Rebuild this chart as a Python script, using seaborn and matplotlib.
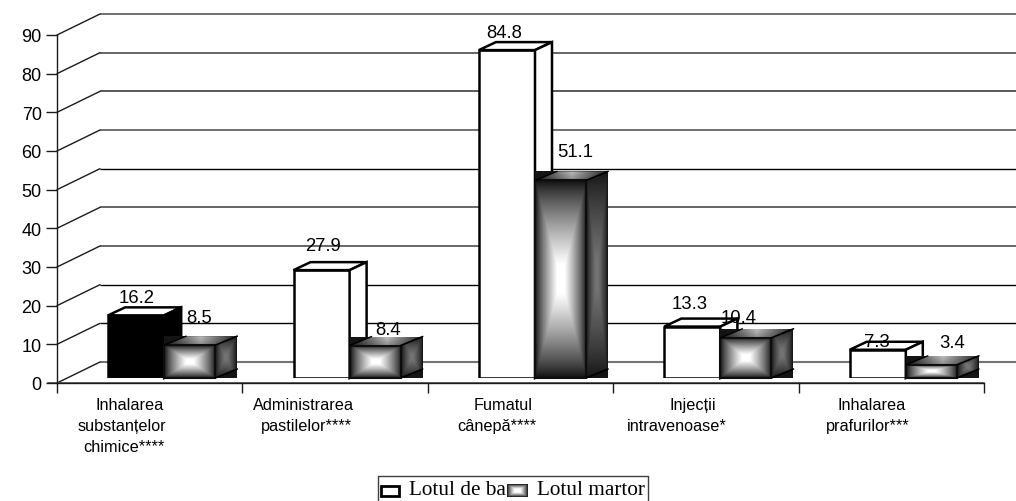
import numpy as np
import pandas as pd
import matplotlib
matplotlib.use("Agg")
import matplotlib.pyplot as plt
from matplotlib.patches import Polygon, Rectangle
import seaborn as sns

categories = ["Inhalarea\nsubstanțelor\nchimice****", "Administrarea\npastilelor****",
              "Fumatul\ncânepă****", "Injecții\nintravenoase*", "Inhalarea\nprafurilor***"]
series_names = ["Lotul de baza", "Lotul martor"]
lot_baza = [16.2, 27.9, 84.8, 13.3, 7.3]
lot_martor = [8.5, 8.4, 51.1, 10.4, 3.4]
y_ticks = list(range(0, 100, 10))

W, H = 1016, 502
L, R, BOT, TOP = 57, 984, 384, 36      # plot frame in pixels
SHIFT_X, SHIFT_Y = 12, 5               # bars sit forward of the axis
WALL_DX, WALL_DY = 43, 21              # depth of the back wall
DX1, DY1 = 17, 8                       # depth of a white bar
DX2, DY2 = 22, 9                       # depth of a gradient bar
SPLIT = 2.5                            # first bar is a bit wider than the second
SANS = "Liberation Sans"
SERIF = "Liberation Serif"

# label placement, pixels relative to bar top centre
base_off = [(0, -18), (1, -25), (-3, -18), (-3, -23), (-1, -8)]
mart_off = [(9, -28), (13, -16), (15, -29), (-7, -20), (21, -22)]
# each line of a category label has its own offset from the category centre
cat_line_off = [[-20, -28, -26], [-32, -29], [-17, -23.5], [-13, -29], [-20, -24]]
grid_style = [("0.45", 1.5), ("0", 1), ("0", 1), ("0.3", 1.2), ("0.35", 1.3), ("0", 1),
              ("0.35", 1.2), ("0.35", 1.4), ("0.4", 1.4), ("0.35", 1.2)]

sns.set_theme(style="white")
plt.rcParams["font.family"] = [SANS, "DejaVu Sans"]

fig = plt.figure(figsize=(W / 100, H / 100), dpi=100, facecolor="white")


def frame(left, right, bottom, top):
    return [left / W, 1 - bottom / H, (right - left) / W, (bottom - top) / H]


def pixel_axes(z):
    a = fig.add_axes([0, 0, 1, 1], zorder=z)
    a.set_xlim(0, W)
    a.set_ylim(H, 0)
    a.set_autoscale_on(False)
    a.axis("off")
    return a


back = pixel_axes(0)
front = pixel_axes(3)

# value axis / category axis
ax = fig.add_axes(frame(L, R, BOT, TOP), zorder=1)
ax.patch.set_alpha(0)
ax.set_xlim(0, len(categories))
ax.set_ylim(0, 90)
ax.set_yticks(y_ticks)
ax.set_xticks(range(len(categories) + 1))
ax.set_xticklabels([])
ax.tick_params(axis="y", length=8, width=1, color="0.1", labelsize=13, pad=3, left=True, labelcolor="black")
ax.tick_params(axis="x", length=7, width=1, color="0.1", bottom=True)
for s in ("top", "right"):
    ax.spines[s].set_visible(False)
for s in ("left", "bottom"):
    ax.spines[s].set_color("0.1")
    ax.spines[s].set_linewidth(1)
ax.grid(False)


def ypx(v):
    return BOT - (BOT - TOP) * v / 90


# back wall and side wall
for v, (c, lw) in zip(y_ticks, grid_style):
    y = ypx(v)
    back.plot([L + WALL_DX, W], [y - WALL_DY, y - WALL_DY], color=c, lw=lw, solid_capstyle="butt")
    back.plot([L, L + WALL_DX], [y, y - WALL_DY], color="0.1", lw=1)
back.plot([L - 9, R], [BOT, BOT], color="0.35", lw=1.3)

# bars
df = pd.DataFrame({
    "categorie": categories * 2,
    "lot": [series_names[0]] * 5 + [series_names[1]] * 5,
    "valoare": lot_baza + lot_martor,
})
bx = fig.add_axes(frame(L + SHIFT_X, R + SHIFT_X, BOT - SHIFT_Y, TOP - SHIFT_Y), zorder=2)
sns.barplot(data=df, x="categorie", y="valoare", hue="lot", order=categories, hue_order=series_names,
            palette=["white", "0.15"], width=0.578, gap=0, dodge=True, saturation=1,
            edgecolor="black", linewidth=1.8, legend=False, ax=bx)
bx.set_xlim(-0.5, 4.5)
bx.set_ylim(0, 90)
bx.axis("off")


def pyramid(nx, ny, lo=0.06, hi=1.0, plateau=0.85, gamma=0.8):
    u = np.linspace(-1, 1, nx)
    v = np.linspace(-1, 1, ny)
    uu, vv = np.meshgrid(u, v)
    t = 1 - np.maximum(np.abs(uu), np.abs(vv))
    t = np.clip(t / plateau, 0, 1) ** gamma
    return lo + (hi - lo) * t


def show(arr, x0, x1, y0, y1, clip=None, vmax=1.0, z=3):
    im = front.imshow(arr, extent=(x0, x1, y1, y0), cmap="gray", vmin=0, vmax=vmax, aspect="auto",
                      interpolation="bilinear", zorder=z)
    if clip is not None:
        p = Polygon(clip, closed=True, transform=front.transData)
        im.set_clip_path(p)
    return im


def box_top_side(x0, x1, top, bottom, dx, dy, top_fc, side_fc, z=2):
    front.add_patch(Polygon([(x0, top), (x0 + dx, top - dy), (x1 + dx, top - dy), (x1, top)], closed=True,
                            fc=top_fc, ec="black", lw=1.8, zorder=z))
    front.add_patch(Polygon([(x1, top), (x1 + dx, top - dy), (x1 + dx, bottom - dy), (x1, bottom)], closed=True,
                            fc=side_fc, ec="black", lw=1.8, zorder=z))


for i, (p1, p2) in enumerate(zip(bx.containers[0], bx.containers[1])):
    # shift the shared edge of the two bars
    p1.set_width(p1.get_width() + SPLIT * 5 / (R - L))
    edge = p1.get_x() + p1.get_width()
    w2 = p2.get_x() + p2.get_width() - edge
    p2.set_x(edge)
    p2.set_width(w2)

    to_px = bx.transData
    (ax0, ay0) = to_px.transform((p1.get_x(), 0))
    (ax1, ay1) = to_px.transform((edge, lot_baza[i]))
    x0, x1 = ax0, ax1
    bottom = H - ay0
    top = H - ay1
    is_black = i == 0
    if is_black:
        p1.set_facecolor("black")
    box_top_side(x0, x1, top, bottom, DX1, DY1, "white", "black" if is_black else "white", z=2)

    (bx1, by1) = to_px.transform((p2.get_x() + p2.get_width(), lot_martor[i]))
    m0, m1 = x1, bx1
    mtop = H - by1
    # dark bounding box
    front.add_patch(Rectangle((m0, mtop - DY2), m1 + DX2 - m0, bottom - mtop + DY2, fc="0.08", ec="none", zorder=3))
    # top face
    g = np.abs(np.linspace(-1, 1, 80))
    top_arr = np.tile(0.12 + 0.62 * (1 - g), (12, 1)) * np.linspace(1.0, 0.75, 12)[:, None]
    show(top_arr, m0, m1 + DX2, mtop - DY2, mtop,
         clip=[(m0, mtop), (m0 + DX2, mtop - DY2), (m1 + DX2, mtop - DY2), (m1, mtop)], z=4)
    # side face
    side_arr = pyramid(30, 80, lo=0.08, hi=0.45)
    show(side_arr, m1, m1 + DX2, mtop - DY2, bottom,
         clip=[(m1, mtop), (m1 + DX2, mtop - DY2), (m1 + DX2, bottom - DY2), (m1, bottom)], z=4)
    # front face
    show(pyramid(80, 120), m0, m1, mtop, bottom, z=4)
    front.add_patch(Rectangle((m0, mtop), m1 - m0, bottom - mtop, fc="none", ec="0.05", lw=1.5, zorder=5))
    front.plot([m0, m0 + DX2], [mtop, mtop - DY2], color="black", lw=1, zorder=5)
    front.plot([m1, m1 + DX2], [mtop, mtop - DY2], color="black", lw=1.2, zorder=5)
    front.plot([m1, m1 + DX2], [bottom, bottom - DY2], color="black", lw=1.2, zorder=5)

    # value labels
    front.text((x0 + x1) / 2 + base_off[i][0], top + base_off[i][1], f"{lot_baza[i]:.1f}", ha="center", va="center",
               fontsize=13.3, color="black", zorder=6)
    front.text((m0 + m1) / 2 + mart_off[i][0], mtop + mart_off[i][1], f"{lot_martor[i]:.1f}", ha="center", va="center",
               fontsize=13.3, color="black", zorder=6)

# category labels
for i, label in enumerate(categories):
    cx = L + (i + 0.5) * (R - L) / len(categories)
    for j, line in enumerate(label.split("\n")):
        front.text(cx + cat_line_off[i][j], 410 + 21 * j, line, ha="center", va="baseline", fontsize=11.7,
                   color="black", zorder=6)

# legend
front.plot([377.5, 377.5, 647.5, 647.5], [H, 476.5, 476.5, H], color="0.25", lw=1, zorder=6)
front.add_patch(Rectangle((381, 487), 18, 10, fc="white", ec="black", lw=2, zorder=6))
front.text(409, 491, series_names[0], ha="left", va="center", fontsize=15.3, family=SERIF, color="black", zorder=6)
front.add_patch(Rectangle((506, 484), 23, 15, fc="white", ec="none", zorder=7))
show(pyramid(30, 20, lo=0.1, plateau=0.7), 507, 528, 485, 498, z=7)
front.text(537, 491, series_names[1], ha="left", va="center", fontsize=15.3, family=SERIF, color="black", zorder=8)

fig.savefig("out.png", dpi=100)
